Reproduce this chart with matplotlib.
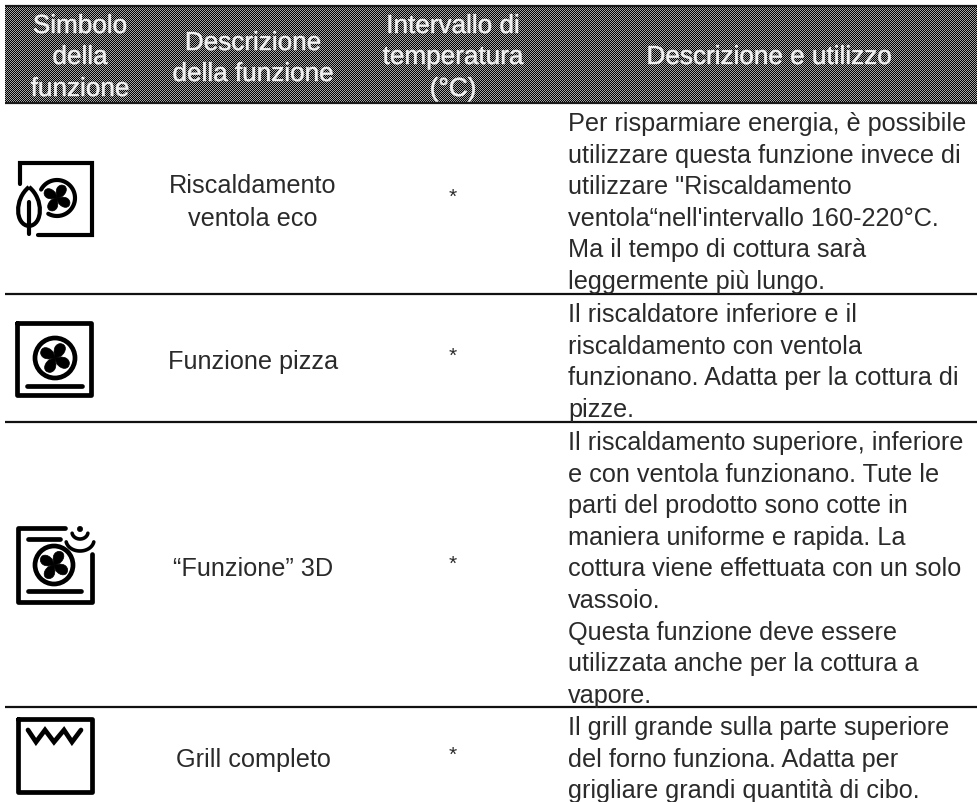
#!/usr/bin/env python3
"""Tabella delle funzioni del forno: testo, simboli disegnati a mano."""
import numpy as np
import matplotlib
matplotlib.use("Agg")
import matplotlib.pyplot as plt
import matplotlib.patheffects as pe
from matplotlib.patches import Circle, PathPatch
from matplotlib.path import Path

headers = [["Simbolo", "della", "funzione"],
           ["Descrizione", "della funzione"],
           ["Intervallo di", "temperatura", "(°C)"],
           ["Descrizione e utilizzo"]]
function_names = [["Riscaldamento", "ventola eco"], ["Funzione pizza"],
                  ["“Funzione” 3D"], ["Grill completo"]]
temperatures = ["*", "*", "*", "*"]
descriptions = [
    ["Per risparmiare energia, è possibile", "utilizzare questa funzione invece di",
     "utilizzare \"Riscaldamento", "ventola“nell'intervallo 160-220°C.",
     "Ma il tempo di cottura sarà", "leggermente più lungo."],
    ["Il riscaldatore inferiore e il", "riscaldamento con ventola",
     "funzionano. Adatta per la cottura di", "pizze."],
    ["Il riscaldamento superiore, inferiore", "e con ventola funzionano. Tute le",
     "parti del prodotto sono cotte in", "maniera uniforme e rapida. La",
     "cottura viene effettuata con un solo", "vassoio.", "Questa funzione deve essere",
     "utilizzata anche per la cottura a", "vapore."],
    ["Il grill grande sulla parte superiore", "del forno funziona. Adatta per",
     "grigliare grandi quantità di cibo."],
]

FS = 18.2
FS_HEAD = 18.8
LW = 3.0
INK = "#2a2a2a"
plt.rcParams["font.family"] = ["Liberation Sans", "DejaVu Sans"]

fig = plt.figure(figsize=(9.77, 8.03), dpi=100)
ax = fig.add_axes([0, 0, 1, 1])

# --- bandeau d'en-tête tramé ---
yy, xx = np.indices((97, 972))
trame = ((xx + yy) % 2).astype(float)
ax.imshow(trame, extent=[5, 977, 104, 7], cmap="gray", vmin=0, vmax=1.55,
          interpolation="nearest", aspect="auto", zorder=1)
ax.set_xlim(0, 977)
ax.set_ylim(803, 0)
ax.axis("off")
for y in (7, 104):
    ax.plot([5, 977], [y, y], color="#1a1a1a", lw=1.6, zorder=2, solid_capstyle="butt")

halo = [pe.withStroke(linewidth=0.4, foreground="#c8c8c8")]
head_x = [80, 253, 453, 769]
head_y = [[34, 65, 97], [51, 82], [34, 65, 97], [65]]
for x, lines, ys in zip(head_x, headers, head_y):
    for txt, y in zip(lines, ys):
        ax.text(x, y, txt, color="#f0f0f0", fontsize=FS_HEAD, ha="center", va="baseline",
                path_effects=halo, zorder=3)

# --- lignes et cellules ---
for y in (295, 423, 708):
    ax.plot([5, 977], [y, y], color="#111111", lw=1.6, zorder=2, solid_capstyle="butt")

name_y = [[193, 226], [369], [576], [767]]
star_y = [203, 362, 570, 761]
desc_y0 = [131, 322, 450, 735]
STEP = 31.6
for i in range(4):
    for txt, y in zip(function_names[i], name_y[i]):
        ax.text(253, y, txt, color=INK, fontsize=FS, ha="center", va="baseline")
    ax.text(453, star_y[i], temperatures[i], color=INK, fontsize=15,
            ha="center", va="baseline")
    for j, txt in enumerate(descriptions[i]):
        ax.text(568, desc_y0[i] + j * STEP, txt, color=INK, fontsize=FS,
                ha="left", va="baseline")


# --- simboli ---
def stroke(pts, lw=LW, cap="round", join="miter"):
    p = np.array(pts, float)
    ax.plot(p[:, 0], p[:, 1], color="black", lw=lw, solid_capstyle=cap,
            solid_joinstyle=join, zorder=4)


def arc(cx, cy, w, h, a0, a1, lw=LW):
    t = np.radians(np.linspace(a0, a1, 60))
    stroke(np.c_[cx + w / 2 * np.cos(t), cy + h / 2 * np.sin(t)], lw=lw)


def fan(cx, cy, r, gap=False, lw=LW):
    if gap:
        arc(cx, cy, 2 * r, 2 * r, 208, 479, lw=lw)
    else:
        ax.add_patch(Circle((cx, cy), r, fill=False, ec="black", lw=lw, zorder=4))
    s = r / 19.0
    # pala: dal centro verso l'esterno, curva
    base = np.array([(0, 0), (-2, -5), (-3, -12), (3, -14), (10, -15), (11, -7), (5, -2), (0, 0)], float) * s
    codes = [Path.MOVETO, Path.CURVE4, Path.CURVE4, Path.CURVE4,
             Path.CURVE4, Path.CURVE4, Path.CURVE4, Path.CLOSEPOLY]
    for k in range(4):
        a = np.pi / 2 * k + 0.1
        rot = np.array([[np.cos(a), -np.sin(a)], [np.sin(a), np.cos(a)]])
        v = base @ rot.T + (cx, cy)
        ax.add_patch(PathPatch(Path(v, codes), fc="black", ec="black", lw=0.5, zorder=4))


# icona 1: ventola eco
stroke([(20, 185), (20, 163.5), (92, 163.5), (92, 236), (38, 236)])
fan(57, 199, 18, gap=True)
leaf = Path([(29, 188), (44, 200), (43, 226), (29, 227), (15, 226), (14, 200), (29, 188)],
            [Path.MOVETO, Path.CURVE4, Path.CURVE4, Path.CURVE4, Path.CURVE4, Path.CURVE4, Path.CURVE4])
ax.add_patch(PathPatch(leaf, fc="none", ec="black", lw=LW, zorder=4))
stroke([(29, 203), (29, 235)])

# icona 2: pizza
stroke([(17, 324), (91, 324), (91, 396), (17, 396), (17, 324)], lw=3.4, join="round")
fan(55, 359, 20, lw=3.4)
stroke([(27, 387), (82, 387)], lw=3.4)

# icona 3: 3D con vapore
stroke([(65, 529), (17.5, 529), (17.5, 603), (92, 603), (92, 555)], lw=3.4, join="round")
stroke([(28, 540), (60, 540)], lw=3.4)
stroke([(28, 592), (81, 592)], lw=3.4)
fan(54, 566, 19, lw=3.4)
ax.add_patch(Circle((80, 530), 2.6, fc="black", ec="black", lw=0.5, zorder=4))
arc(80, 533, 16, 14, 10, 170, lw=2.6)
arc(80, 541, 28, 22, 10, 170, lw=2.6)

# icona 4: grill
stroke([(17.5, 720), (91.5, 720), (91.5, 793), (17.5, 793), (17.5, 720)], lw=3.4, join="round")
stroke([(28, 731), (36, 743), (45, 731), (54, 743), (64, 731), (72, 743), (81, 731)], lw=3.4)

fig.savefig("out.png", dpi=100)
